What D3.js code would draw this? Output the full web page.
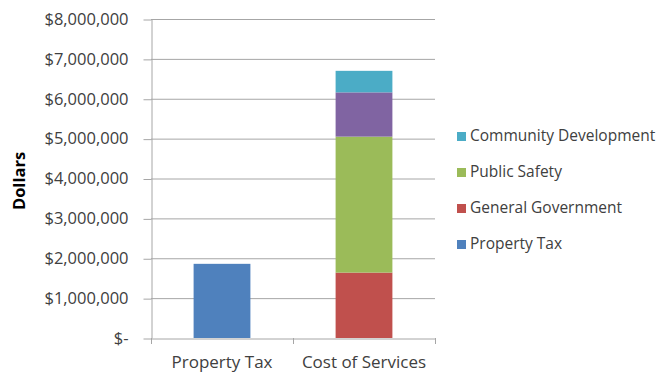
<!DOCTYPE html>
<html><head><meta charset="utf-8">
<script src="https://cdn.jsdelivr.net/npm/d3@7"></script>
<style>body{margin:0;background:#fff}svg{display:block}text{font-family:"Open Sans",sans-serif}</style>
</head><body><svg id="c" width="662" height="373"></svg>
<script>
const categories = ["Property Tax", "Cost of Services"];
const seriesNames = ["Property Tax", "General Government", "Public Safety", "Other Services", "Community Development"];
const propertyTax = [1860000, 0];
const generalGovernment = [0, 1640000];
const publicSafety = [0, 3410000];
const otherServices = [0, 1110000];
const communityDevelopment = [0, 540000];
const yTicks = [0, 1000000, 2000000, 3000000, 4000000, 5000000, 6000000, 7000000, 8000000];
const legendNames = ["Community Development", "Public Safety", "General Government", "Property Tax"];
const colors = {"Property Tax":"#4F81BD","General Government":"#C0504D","Public Safety":"#9BBB59","Other Services":"#8064A2","Community Development":"#4BACC6"};

const seriesVals = [propertyTax, generalGovernment, publicSafety, otherServices, communityDevelopment];
const rows = categories.map((c,i)=>{const r={cat:c}; seriesNames.forEach((s,j)=>r[s]=seriesVals[j][i]); return r;});
const stacked = d3.stack().keys(seriesNames)(rows);

const svg = d3.select("#c");
const L=151, R=435, T=19, B=338;
const x = d3.scaleBand().domain(categories).range([L,R]).paddingInner(0.6).paddingOuter(0.3);
const y = d3.scaleLinear().domain([0,8000000]).range([B,T]);
const grid="#a6a6a6", txt="#404040";

// gridlines
svg.append("g").selectAll("line").data(yTicks.slice(1)).join("line")
  .attr("x1",L).attr("x2",R).attr("y1",d=>y(d)+0.5).attr("y2",d=>y(d)+0.5)
  .attr("stroke",grid).attr("stroke-width",1);

// bars
svg.append("g").selectAll("g").data(stacked).join("g").attr("fill",d=>colors[d.key])
  .selectAll("rect").data(d=>d.filter(v=>v[1]-v[0]>0)).join("rect")
  .attr("x",d=>x(d.data.cat)).attr("width",x.bandwidth())
  .attr("y",d=>y(d[1])).attr("height",d=>y(d[0])-y(d[1]));

// y axis
const fmt = d=> d===0 ? "$-" : "$" + d3.format(",")(d);
const ya = svg.append("g").attr("transform",`translate(${L+0.5},0)`)
  .call(d3.axisLeft(y).tickValues(yTicks).tickFormat(fmt).tickSizeInner(8).tickSizeOuter(0).tickPadding(15));
ya.select(".domain").attr("stroke",grid);
ya.selectAll(".tick line").attr("stroke",grid).attr("transform","translate(0,0.5)");
ya.selectAll("text").attr("fill",txt).style("font-size","16.5px").style("font-family","'Open Sans',sans-serif");

// x axis
const xa = svg.append("g").attr("transform",`translate(0,${B+0.5})`)
  .call(d3.axisBottom(x).tickSizeInner(0).tickSizeOuter(0).tickPadding(17));
xa.select(".domain").attr("stroke",grid);
xa.selectAll("text").attr("fill",txt).style("font-size","17px").style("font-family","'Open Sans',sans-serif");
// category separators
svg.append("g").selectAll("line").data([0,1,2]).join("line")
  .attr("x1",i=>L + i*(R-L)/categories.length+0.5).attr("x2",i=>L + i*(R-L)/categories.length+0.5)
  .attr("y1",B).attr("y2",B+6).attr("stroke",grid);

// y title
svg.append("text").attr("transform","translate(19,181) rotate(-90)").attr("text-anchor","middle")
  .attr("dy","0.35em").style("font-size","16.5px").style("font-weight","bold").attr("fill","#000").text("Dollars");

// legend
const lg = svg.append("g").selectAll("g").data(legendNames).join("g")
  .attr("transform",(d,i)=>`translate(457,${136+i*36})`);
lg.append("rect").attr("x",0).attr("y",-4).attr("width",9).attr("height",9).attr("fill",d=>colors[d]);
lg.append("text").attr("x",13).attr("y",0).attr("dy","0.35em").attr("fill",txt)
  .style("font-size","15.5px").text(d=>d);
</script></body></html>
